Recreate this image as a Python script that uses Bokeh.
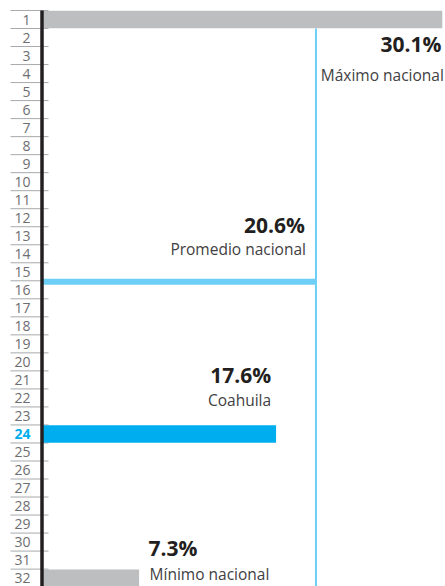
from bokeh.plotting import figure
from bokeh.models import Range1d, ColumnDataSource
from bokeh.core.properties import value
from bokeh.embed import file_html
from bokeh.resources import INLINE

# ---- data ----
ranks = list(range(1, 33))
rank_labels = [str(r) for r in ranks]
highlight_rank = 24

bar_ranks = [1, 24, 32]
bar_values = [30.1, 17.6, 7.3]
bar_names = ["Máximo nacional", "Coahuila", "Mínimo nacional"]
value_labels = ["30.1%", "17.6%", "7.3%"]
bar_colors = ["#BCBEC0", "#00AEEF", "#BCBEC0"]

avg_value = 20.6
avg_position = 15.55
avg_label = "20.6%"
avg_name = "Promedio nacional"

# ---- layout constants (pixels) ----
W, H = 445, 586
X0_PX = 41.5          # pixel of value 0 (axis line)
PX_PER_UNIT = 13.3
ROW1_PX = 19.0        # pixel centre of rank 1
ROW_PX = 18.02        # pixels per rank

x_start = -X0_PX / PX_PER_UNIT
x_end = (W - X0_PX) / PX_PER_UNIT
y_top = 1 - ROW1_PX / ROW_PX
y_bottom = 1 + (H - ROW1_PX) / ROW_PX

p = figure(width=W, height=H,
           x_range=Range1d(x_start, x_end), y_range=Range1d(y_bottom, y_top),
           output_backend="svg", toolbar_location=None,
           x_axis_location=None, y_axis_location=None,
           min_border_left=0, min_border_right=0,
           min_border_top=0, min_border_bottom=0)
p.grid.visible = False
p.outline_line_color = None

# row separators (tick marks of the rank axis)
sep_y = [r - 0.5 for r in ranks]
sep_x0 = -(X0_PX - 10) / PX_PER_UNIT
sep_x1 = (48 - X0_PX) / PX_PER_UNIT
p.segment(x0=[sep_x0] * len(sep_y), y0=sep_y, x1=[sep_x1] * len(sep_y), y1=sep_y,
          line_color="#A7A9AC", line_width=1)

# bars
p.hbar(y=bar_ranks, left=0, right=bar_values, height=0.97,
       fill_color=bar_colors, line_color=None)
p.hbar(y=[avg_position], left=0, right=[avg_value], height=0.33,
       fill_color="#6DCFF6", line_color=None)
p.segment(x0=[avg_value], y0=[1.5], x1=[avg_value], y1=[y_bottom + 1],
          line_color="#6DCFF6", line_width=2)

# axis line
p.segment(x0=[0], y0=[0.5], x1=[0], y1=[y_bottom + 1],
          line_color="#231F20", line_width=3.5)

# rank tick labels
lab_src = ColumnDataSource(dict(
    x=[0] * len(ranks), y=ranks, text=rank_labels,
    color=["#00AEEF" if r == highlight_rank else "#6D6E71" for r in ranks],
    style=["bold" if r == highlight_rank else "normal" for r in ranks],
))
p.text(x="x", y="y", text="text", source=lab_src, text_align="right",
       text_baseline="middle", x_offset=-11.5, text_color="color",
       text_font_style="style", text_font=value("Open Sans"),
       text_font_size="14px")

VAL_FONT = dict(text_font=value("Open Sans"), text_font_style="bold",
                text_font_size="21px", text_color="#231F20",
                text_baseline="alphabetic")
NAME_FONT = dict(text_font=value("Open Sans"), text_font_size="15.5px",
                 text_color="#414042", text_baseline="alphabetic")

# max (index 0)
p.text(x=[bar_values[0]], y=[bar_ranks[0]], text=[value_labels[0]],
       text_align="right", x_offset=-1, y_offset=24, **VAL_FONT)
p.text(x=[bar_values[0]], y=[bar_ranks[0]], text=[bar_names[0]],
       text_align="right", x_offset=1.5, y_offset=55, **NAME_FONT)
# average
p.text(x=[avg_value], y=[avg_position], text=[avg_label],
       text_align="right", x_offset=-11, y_offset=-57, **VAL_FONT)
p.text(x=[avg_value], y=[avg_position], text=[avg_name],
       text_align="right", x_offset=-10, y_offset=-32.5, **NAME_FONT)
# Coahuila
p.text(x=[bar_values[1]], y=[bar_ranks[1]], text=[value_labels[1]],
       text_align="right", x_offset=-5, y_offset=-58.5, **VAL_FONT)
p.text(x=[bar_values[1]], y=[bar_ranks[1]], text=[bar_names[1]],
       text_align="right", x_offset=-5, y_offset=-33.5, **NAME_FONT)
# min
p.text(x=[bar_values[2]], y=[bar_ranks[2]], text=[value_labels[2]],
       text_align="left", x_offset=9.5, y_offset=-30, **VAL_FONT)
p.text(x=[bar_values[2]], y=[bar_ranks[2]], text=[bar_names[2]],
       text_align="left", x_offset=10.5, y_offset=-4, **NAME_FONT)

open("out.html", "w").write(file_html(p, INLINE))
